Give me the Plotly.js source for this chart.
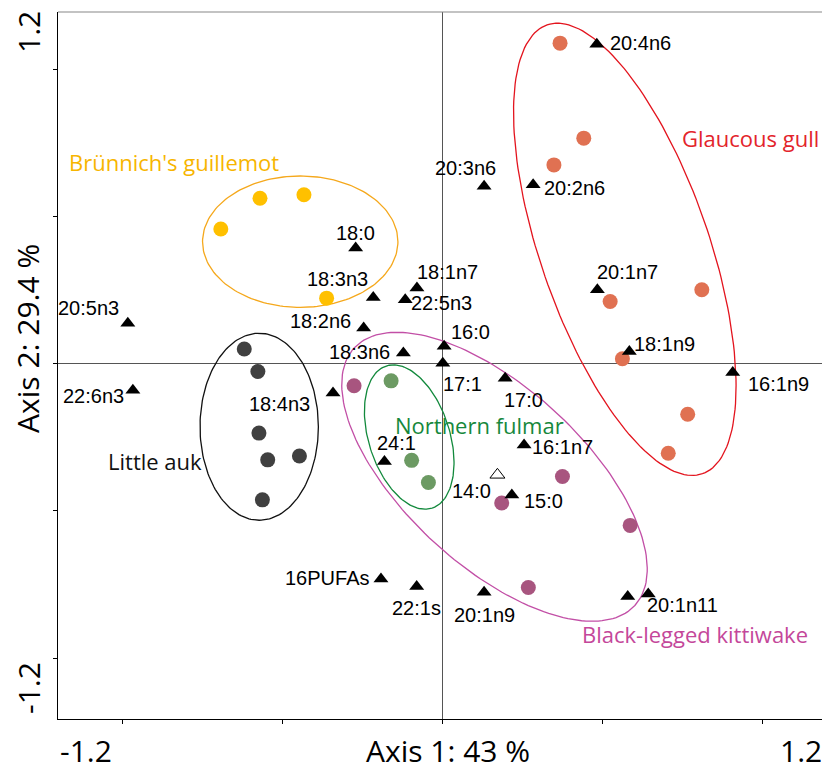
<!DOCTYPE html>
<html>
<head>
<meta charset="utf-8">
<script src="https://cdn.plot.ly/plotly-3.0.1.min.js"></script>
<style>
  html, body { margin: 0; padding: 0; background: #fff; }
  #chart { width: 822px; height: 769px; }
</style>
</head>
<body>
<div id="chart"></div>
<script>
// Fatty-acid loadings (triangles) on the first two PCA axes
const faNames = ["20:4n6", "20:3n6", "20:2n6", "18:0", "18:3n3", "18:1n7", "22:5n3", "18:2n6",
  "20:5n3", "22:6n3", "16:0", "18:3n6", "17:1", "17:0", "18:4n3", "24:1", "16:1n7", "14:0",
  "15:0", "16PUFAs", "22:1s", "20:1n9", "", "20:1n11", "20:1n7", "18:1n9", "16:1n9"];
const faAxis1 = [0.579, 0.156, 0.340, -0.326, -0.260, -0.096, -0.140, -0.296,
  -1.181, -1.162, 0.006, -0.147, 0.001, 0.235, -0.411, -0.218, 0.306, 0.206,
  0.260, -0.231, -0.097, 0.156, 0.695, 0.772, 0.581, 0.701, 1.089];
const faAxis2 = [1.302, 0.723, 0.729, 0.471, 0.270, 0.308, 0.260, 0.145,
  0.165, -0.108, 0.071, 0.043, 0.002, -0.059, -0.120, -0.399, -0.331, -0.453,
  -0.535, -0.877, -0.908, -0.931, -0.949, -0.939, 0.301, 0.050, -0.036];
const faOpen = ["14:0"];   // drawn as an open triangle

// Seabird samples (circles) per species
const species = ["Glaucous gull", "Brünnich's guillemot", "Little auk", "Northern fulmar", "Black-legged kittiwake"];
const gullAxis1 = [0.441, 0.530, 0.418, 0.973, 0.629, 0.675, 0.920, 0.847];
const gullAxis2 = [1.306, 0.919, 0.810, 0.301, 0.253, 0.020, -0.206, -0.365];
const guillemotAxis1 = [-0.832, -0.685, -0.520, -0.435];
const guillemotAxis2 = [0.549, 0.674, 0.688, 0.267];
const aukAxis1 = [-0.744, -0.693, -0.689, -0.656, -0.537, -0.676];
const aukAxis2 = [0.060, -0.032, -0.283, -0.392, -0.376, -0.555];
const fulmarAxis1 = [-0.193, -0.116, -0.053];
const fulmarAxis2 = [-0.070, -0.394, -0.484];
const kittiwakeAxis1 = [-0.332, 0.222, 0.450, 0.704, 0.322];
const kittiwakeAxis2 = [-0.090, -0.568, -0.460, -0.659, -0.912];

// Group ellipses: centre and two conjugate half-axis vectors, in axis units
const ellCx = [0.684, -0.534, -0.688, -0.125, 0.195];
const ellCy = [0.466, 0.497, -0.257, -0.299, -0.461];
const ellUx = [0.2915, 0.3666, 0.2221, 0.0857, 0.5268];
const ellUy = [-0.9145, 0, 0, -0.2898, -0.5245];
const ellVx = [-0.299, 0, 0, -0.1447, -0.2260];
const ellVy = [-0.1125, 0.2677, 0.381, -0.0505, -0.2676];

// ---- styling ----
const markerColors = ["#E07152", "#FFC000", "#404040", "#6C9A63", "#A8557F"];
const ringColors = ["#E3141E", "#F5A81C", "#111111", "#12893C", "#C24FA6"];
const textColors = ["#E3242B", "#F7B500", "#111111", "#16883C", "#C4479A"];
// label centres of species names, in axis units
const groupLabelPos = [[1.154, 0.919], [-1.007, 0.821], [-1.079, -0.397], [0.139, -0.249], [0.947, -1.102]];
// pixel offset of each fatty-acid label from its triangle (dx right, dy up)
const faLabelOffset = [[44, 1], [-19, 18], [41, -3], [0, 15], [-36, 18], [31, 16], [36, -3], [-43, 7],
  [-39, 15], [-39, -6], [26, 14], [-44, 1], [20, -21], [18.5, -22], [-54, -11], [12, 19], [38, -2], [-26, -16],
  [32, -6], [-53.5, 1], [0, -22], [0, -23], [0, 0], [34.5, -11], [30, 18], [35, 7], [46, -12]];

const samples = [
  [gullAxis1, gullAxis2], [guillemotAxis1, guillemotAxis2], [aukAxis1, aukAxis2],
  [fulmarAxis1, fulmarAxis2], [kittiwakeAxis1, kittiwakeAxis2]
];

const traces = [];

// ellipse outlines
species.forEach((name, i) => {
  const xs = [], ys = [];
  const n = 180;
  for (let k = 0; k <= n; k++) {
    const t = 2 * Math.PI * k / n;
    xs.push(ellCx[i] + ellUx[i] * Math.cos(t) + ellVx[i] * Math.sin(t));
    ys.push(ellCy[i] + ellUy[i] * Math.cos(t) + ellVy[i] * Math.sin(t));
  }
  traces.push({
    x: xs, y: ys, mode: "lines", type: "scatter", hoverinfo: "skip",
    line: { color: ringColors[i], width: 1.3 }, showlegend: false
  });
});

// species samples
species.forEach((name, i) => {
  traces.push({
    x: samples[i][0], y: samples[i][1], mode: "markers", type: "scatter", name: name,
    marker: { symbol: "circle", size: 15, color: markerColors[i], line: { width: 0 } },
    showlegend: false
  });
});

// fatty-acid triangles
const solidIdx = faNames.map((n, i) => i).filter(i => !faOpen.includes(faNames[i]));
const openIdx = faNames.map((n, i) => i).filter(i => faOpen.includes(faNames[i]));
traces.push({
  x: solidIdx.map(i => faAxis1[i]), y: solidIdx.map(i => faAxis2[i]),
  text: solidIdx.map(i => faNames[i]), mode: "markers", type: "scatter",
  marker: { symbol: "triangle-up", size: 13, color: "#000" }, showlegend: false
});
traces.push({
  x: openIdx.map(i => faAxis1[i]), y: openIdx.map(i => faAxis2[i]),
  text: openIdx.map(i => faNames[i]), mode: "markers", type: "scatter",
  marker: { symbol: "triangle-up-open", size: 13, color: "#000", line: { width: 1, color: "#000" } },
  showlegend: false
});

const annotations = [];
faNames.forEach((name, i) => {
  if (!name) return;
  annotations.push({
    x: faAxis1[i], y: faAxis2[i], xref: "x", yref: "y", text: name, showarrow: false,
    xanchor: "center", yanchor: "middle", xshift: faLabelOffset[i][0], yshift: faLabelOffset[i][1],
    font: { family: "Liberation Sans, Arial, sans-serif", size: 20, color: "#000" }
  });
});
species.forEach((name, i) => {
  annotations.push({
    x: groupLabelPos[i][0], y: groupLabelPos[i][1], xref: "x", yref: "y", text: name, showarrow: false,
    xanchor: "center", yanchor: "middle",
    font: { family: "Open Sans, Noto Sans, sans-serif", size: 22, color: textColors[i] }
  });
});

// axis end values and titles
const bigFont = { family: "Open Sans, Noto Sans, sans-serif", size: 30, color: "#000" };
annotations.push(
  { xref: "paper", yref: "paper", x: 0.0366, y: -0.045, text: "-1.2", showarrow: false, xanchor: "center", yanchor: "middle", font: bigFont },
  { xref: "paper", yref: "paper", x: 0.973, y: -0.045, text: "1.2", showarrow: false, xanchor: "center", yanchor: "middle", font: bigFont },
  { xref: "paper", yref: "paper", x: 0.5105, y: -0.045, text: "Axis 1: 43 %", showarrow: false, xanchor: "center", yanchor: "middle", font: bigFont },
  { xref: "paper", yref: "paper", x: -0.0393, y: 0.9717, text: "1.2", textangle: -90, showarrow: false, xanchor: "center", yanchor: "middle", font: bigFont },
  { xref: "paper", yref: "paper", x: -0.0393, y: 0.0438, text: "-1.2", textangle: -90, showarrow: false, xanchor: "center", yanchor: "middle", font: bigFont },
  { xref: "paper", yref: "paper", x: -0.0393, y: 0.539, text: "Axis 2: 29.4 %", textangle: -90, showarrow: false, xanchor: "center", yanchor: "middle", font: bigFont }
);

const axisCommon = {
  showgrid: false, zeroline: true, zerolinecolor: "#555", zerolinewidth: 1,
  showline: true, linecolor: "#000", linewidth: 1, mirror: false,
  ticks: "outside", ticklen: 4, tickcolor: "#000", tickwidth: 1,
  tickvals: [-1.2, -0.6, 0, 0.6, 1.2], showticklabels: false, fixedrange: true
};

const layout = {
  width: 822, height: 769,
  margin: { l: 58, r: 0, t: 12, b: 50 },
  paper_bgcolor: "#fff", plot_bgcolor: "#fff",
  showlegend: false,
  xaxis: Object.assign({}, axisCommon, { range: [-1.443, 1.424] }),
  yaxis: Object.assign({}, axisCommon, { range: [-1.448, 1.433] }),
  shapes: [
    { type: "line", xref: "paper", yref: "paper", x0: 0, x1: 1, y0: 1, y1: 1, line: { color: "#888", width: 1.2 } }
  ],
  annotations: annotations
};

Plotly.newPlot("chart", traces, layout, { staticPlot: true, displayModeBar: false });
</script>
</body>
</html>
